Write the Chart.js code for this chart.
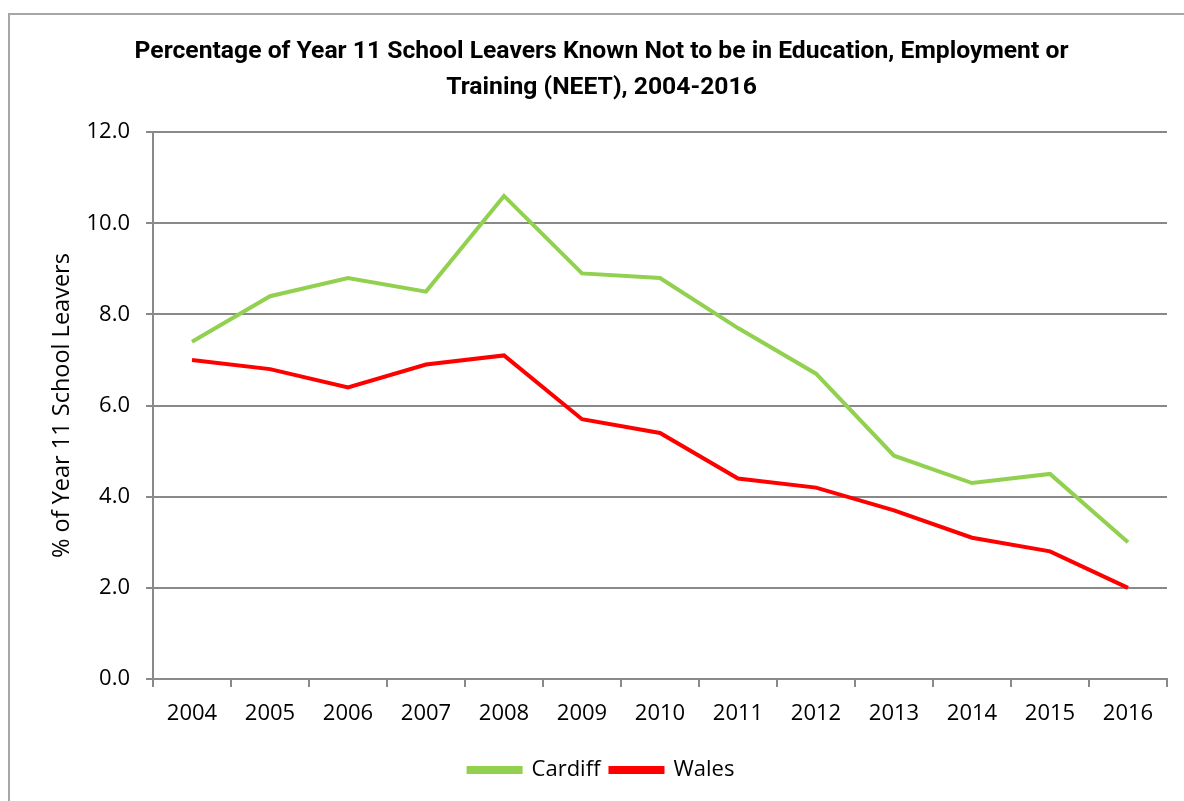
<!DOCTYPE html>
<html>
<head>
<meta charset="utf-8">
<script src="https://cdn.jsdelivr.net/npm/chart.js@4"></script>
<style>
  html, body { margin: 0; padding: 0; background: #fff; overflow: hidden; }
  #wrap { position: absolute; left: 0; top: 0; width: 1184px; height: 801px; }
  #frame { position: absolute; left: 8px; top: 13px; width: 1300px; height: 900px; border: 2px solid #a6a6a6; box-sizing: border-box; }
</style>
</head>
<body>
<div id="frame"></div>
<div id="wrap"><canvas id="neetChart" width="1184" height="801"></canvas></div>
<script>
const years = ['2004', '2005', '2006', '2007', '2008', '2009', '2010', '2011', '2012', '2013', '2014', '2015', '2016'];
const cardiff = [7.4, 8.4, 8.8, 8.5, 10.6, 8.9, 8.8, 7.7, 6.7, 4.9, 4.3, 4.5, 3.0];
const wales = [7.0, 6.8, 6.4, 6.9, 7.1, 5.7, 5.4, 4.4, 4.2, 3.7, 3.1, 2.8, 2.0];

const tickFont = { family: "'Open Sans', sans-serif", size: 22 };

function drawChart() {
    const ctx = document.getElementById('neetChart').getContext('2d');

    window._neetChart = new Chart(ctx, {
        type: 'line',
        data: {
            labels: years,
            datasets: [{
                label: 'Cardiff',
                data: cardiff,
                borderColor: '#92d050',
                backgroundColor: '#92d050',
                borderWidth: 4,
                pointRadius: 0,
                tension: 0
            }, {
                label: 'Wales',
                data: wales,
                borderColor: '#ff0000',
                backgroundColor: '#ff0000',
                borderWidth: 4,
                pointRadius: 0,
                tension: 0
            }]
        },
        options: {
            responsive: false,
            animation: false,
            // left/right padding keeps title + legend centred like the original
            layout: { padding: { left: 36, right: 17, top: 0, bottom: 10 } },
            scales: {
                x: {
                    offset: true,
                    grid: { offset: true, drawOnChartArea: false, color: '#898989', lineWidth: 2, tickLength: 8 },
                    border: { color: '#898989', width: 2 },
                    ticks: { color: '#000', font: tickFont, padding: 14, maxRotation: 0 },
                    afterFit: (scale) => { scale.height = 70; }
                },
                y: {
                    min: 0,
                    max: 12,
                    ticks: { stepSize: 2, color: '#000', font: tickFont, padding: 16,
                             callback: (v) => v.toFixed(1) },
                    grid: { color: '#898989', lineWidth: 2, tickLength: 7 },
                    border: { color: '#898989', width: 2 },
                    title: { display: true, text: '% of Year 11 School Leavers', color: '#000',
                             font: { family: "'Open Sans', sans-serif", size: 23.5, lineHeight: 1.2 },
                             padding: { top: 12, bottom: 0 } },
                    afterFit: (scale) => { scale.width = 117; }
                }
            },
            plugins: {
                title: {
                    display: true,
                    text: ['Percentage of Year 11 School Leavers Known Not to be in Education, Employment or',
                           'Training (NEET), 2004-2016'],
                    color: '#000',
                    font: { family: "'Roboto', sans-serif", size: 24.7, weight: 'bold', lineHeight: 1.46 },
                    padding: { top: 34, bottom: 26 }
                },
                legend: {
                    display: true,
                    position: 'bottom',
                    labels: { color: '#000', font: tickFont, boxWidth: 52, boxHeight: 4, padding: 10 }
                },
                tooltip: { enabled: false }
            }
        }
    });
}

window.addEventListener('load', drawChart);
</script>
</body>
</html>
